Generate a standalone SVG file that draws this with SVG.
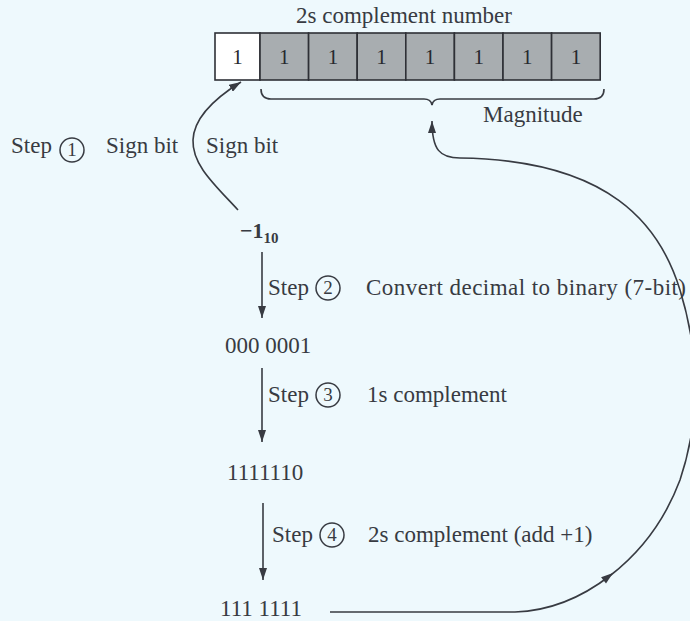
<svg xmlns="http://www.w3.org/2000/svg" width="690" height="621" viewBox="0 0 690 621">
  <defs>
    <style>
      text { font-family: "Liberation Serif", "Times New Roman", serif; font-size: 23px; fill: #383b42; }
      .cell { stroke: #2e3036; stroke-width: 1.6; }
      .sign { fill: #ffffff; }
      .mag { fill: #a8adb0; }
      .bit { font-size: 21px; text-anchor: middle; fill: #26282d; }
      .line { fill: none; stroke: #383b42; stroke-width: 1.6; }
      .ring { fill: none; stroke: #383b42; stroke-width: 1.5; }
      .num { font-size: 19px; text-anchor: middle; }
      .bold { font-weight: bold; }
    </style>
    <marker id="arrow" viewBox="0 0 12 8" refX="12" refY="4" markerWidth="12" markerHeight="8" markerUnits="userSpaceOnUse" orient="auto">
      <path d="M0,0 L12,4 L0,8 Z" fill="#383b42"/>
    </marker>
  </defs>

  <rect width="690" height="621" fill="#eef9fd"/>

  <!-- register: sign bit plus 7 magnitude bits -->
  <g id="register">
    <text x="296" y="23">2s complement number</text>
    <rect class="cell sign" x="215" y="33" width="45" height="47"/>
    <rect class="cell mag" x="260" y="33" width="48.6" height="47"/>
    <rect class="cell mag" x="308.6" y="33" width="48.6" height="47"/>
    <rect class="cell mag" x="357.2" y="33" width="48.6" height="47"/>
    <rect class="cell mag" x="405.8" y="33" width="48.6" height="47"/>
    <rect class="cell mag" x="454.4" y="33" width="48.6" height="47"/>
    <rect class="cell mag" x="503" y="33" width="48.6" height="47"/>
    <rect class="cell mag" x="551.6" y="33" width="48.6" height="47"/>
    <text class="bit" x="237.5" y="64">1</text>
    <text class="bit" x="284.3" y="64">1</text>
    <text class="bit" x="332.9" y="64">1</text>
    <text class="bit" x="381.5" y="64">1</text>
    <text class="bit" x="430.1" y="64">1</text>
    <text class="bit" x="478.7" y="64">1</text>
    <text class="bit" x="527.3" y="64">1</text>
    <text class="bit" x="575.9" y="64">1</text>
  </g>

  <g id="magnitude">
    <path class="line" d="M261,89 Q261,99 271,99 L424,99 Q431,99 432,105 Q433,99 440,99 L594,99 Q604,99 604,89"/>
    <text x="483" y="122">Magnitude</text>
  </g>

  <g id="step1">
    <text x="11" y="153">Step</text>
    <circle class="ring" cx="72" cy="150" r="12"/>
    <text class="num" x="72" y="156">1</text>
    <text x="106" y="153">Sign bit</text>
    <text x="206" y="153">Sign bit</text>
  </g>

  <g id="decimal">
    <text class="bold" x="240" y="238" style="font-size:22px">−1<tspan dy="5" style="font-size:15px">10</tspan></text>
  </g>

  <g id="step2">
    <text x="268" y="295">Step</text>
    <circle class="ring" cx="328" cy="288" r="12"/>
    <text class="num" x="328" y="294">2</text>
    <text x="366" y="295" textLength="320">Convert decimal to binary (7-bit)</text>
  </g>

  <g id="binary">
    <text x="225" y="353">000 0001</text>
  </g>

  <g id="step3">
    <text x="268" y="402">Step</text>
    <circle class="ring" cx="328" cy="395" r="12"/>
    <text class="num" x="328" y="401">3</text>
    <text x="367" y="402">1s complement</text>
  </g>

  <g id="ones">
    <text x="227" y="480">1111110</text>
  </g>

  <g id="step4">
    <text x="272" y="542">Step</text>
    <circle class="ring" cx="332" cy="535" r="12"/>
    <text class="num" x="332" y="541">4</text>
    <text x="368" y="542">2s complement (add +1)</text>
  </g>

  <g id="twos">
    <text x="220" y="616">111 1111</text>
  </g>

  <!-- connectors -->
  <g id="connectors">
    <path class="line" marker-end="url(#arrow)" d="M238,210 C215,185 192,165 193,140 C194,115 220,95 241,82"/>
    <path class="line" marker-end="url(#arrow)" d="M262,252 L262,318"/>
    <path class="line" marker-end="url(#arrow)" d="M262,368 L262,442"/>
    <path class="line" marker-end="url(#arrow)" d="M263,503 L263,580"/>
    <path class="line" marker-end="url(#arrow)" d="M330,612 L515,612 C547.5,611 581.25,598 610.6,575.25 C640,552.5 665,520 680,480 C700,420 700,355 680,290 C660,225 610,160 460,158 C440,158 432,150 432,121"/>
    <path d="M0,0 L-12,-4 L-12,4 Z" fill="#383b42" transform="translate(613,573) rotate(-38)"/>
  </g>
</svg>
